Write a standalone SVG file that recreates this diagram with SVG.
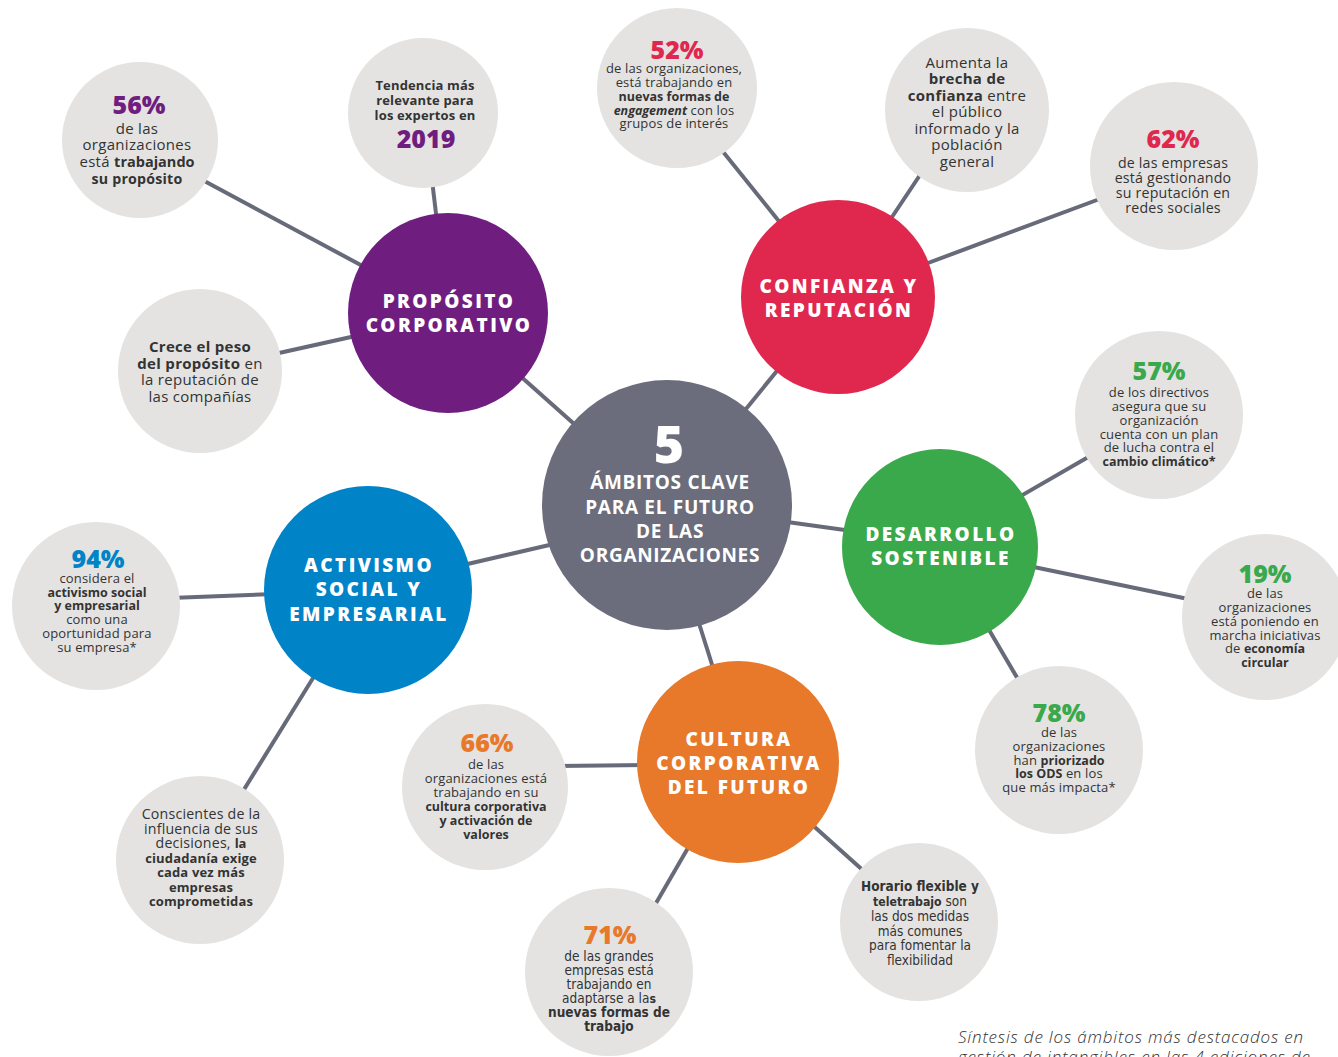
<svg xmlns="http://www.w3.org/2000/svg" width="1338" height="1057" viewBox="0 0 1338 1057">
  <style>
    .sat { fill: #e4e3e2; }
    .line { stroke: #676a79; stroke-width: 4; fill: none; }
    .t { font-family: "Open Sans", "Noto Sans", sans-serif; font-size: 13px; letter-spacing: 0.15px; fill: #333333; text-anchor: middle; }
    .big { font-size: 15px; letter-spacing: 0.3px; }
    .mid { font-size: 14.2px; letter-spacing: 0.2px; }
    .n { font-family: "Liberation Sans Narrow", "DejaVu Sans Condensed", "Roboto", sans-serif; font-size: 13.5px; letter-spacing: 0; }
    .bd { font-weight: 700; }
    .bs { font-weight: 700; font-size: 12.5px; letter-spacing: 0; }
    .pct { font-family: "Open Sans", "Noto Sans", sans-serif; font-weight: 800; font-size: 25px; text-anchor: middle; }
    .cat { font-family: "Open Sans", "Noto Sans", sans-serif; font-weight: 800; font-size: 19px; fill: #ffffff; letter-spacing: 2.4px; text-anchor: middle; }
    .purple { fill: #6f1e80; }
    .red { fill: #e0284f; }
    .green { fill: #39a94b; }
    .blue { fill: #0083c7; }
    .orange { fill: #e8792b; }
  </style>

  <rect width="1338" height="1057" fill="#ffffff"/>

  <!-- connectors, drawn first so the circles sit over their ends -->
  <g id="connectors">
    <line class="line" x1="195" y1="176" x2="370" y2="270"/>
    <line class="line" x1="432" y1="180" x2="437" y2="222"/>
    <line class="line" x1="270" y1="355" x2="360" y2="335"/>
    <line class="line" x1="518" y1="374" x2="582" y2="431"/>
    <line class="line" x1="720" y1="148" x2="786" y2="230"/>
    <line class="line" x1="926" y1="166" x2="886" y2="226"/>
    <line class="line" x1="1105" y1="197" x2="920" y2="266"/>
    <line class="line" x1="785" y1="361" x2="737" y2="420"/>
    <line class="line" x1="1097" y1="452" x2="1012" y2="501"/>
    <line class="line" x1="780" y1="521" x2="852" y2="531"/>
    <line class="line" x1="1024" y1="565" x2="1193" y2="600"/>
    <line class="line" x1="985" y1="623" x2="1022" y2="686"/>
    <line class="line" x1="697" y1="617" x2="715" y2="674"/>
    <line class="line" x1="557" y1="766" x2="647" y2="765"/>
    <line class="line" x1="692" y1="841" x2="648" y2="917"/>
    <line class="line" x1="808" y1="821" x2="867" y2="874"/>
    <line class="line" x1="558" y1="543" x2="459" y2="566"/>
    <line class="line" x1="274" y1="594" x2="170" y2="598"/>
    <line class="line" x1="318" y1="670" x2="240" y2="796"/>
  </g>

  <!-- central hub -->
  <g id="hub">
    <circle cx="667" cy="505" r="125" fill="#6b6d7c"/>
    <text x="669" y="463" font-family="Open Sans, Noto Sans, sans-serif" font-weight="800" font-size="52" fill="#ffffff" text-anchor="middle">5</text>
    <g font-family="Open Sans, Noto Sans, sans-serif" font-weight="700" font-size="19" fill="#ffffff" text-anchor="middle" letter-spacing="0.7">
      <text x="670" y="489">ÁMBITOS CLAVE</text>
      <text x="670" y="514">PARA EL FUTURO</text>
      <text x="670" y="538">DE LAS</text>
      <text x="670" y="562">ORGANIZACIONES</text>
    </g>
  </g>

  <!-- main areas -->
  <g id="proposito">
    <circle cx="448" cy="313" r="100" fill="#6f1e80"/>
    <text class="cat" x="449" y="308">PROPÓSITO</text>
    <text class="cat" x="449" y="332">CORPORATIVO</text>
  </g>
  <g id="confianza">
    <circle cx="838" cy="297" r="97" fill="#e0284f"/>
    <text class="cat" x="839" y="293">CONFIANZA Y</text>
    <text class="cat" x="839" y="317">REPUTACIÓN</text>
  </g>
  <g id="desarrollo">
    <circle cx="940" cy="547" r="98" fill="#39a94b"/>
    <text class="cat" x="941" y="541">DESARROLLO</text>
    <text class="cat" x="941" y="565">SOSTENIBLE</text>
  </g>
  <g id="cultura">
    <circle cx="738" cy="762" r="101" fill="#e8792b"/>
    <text class="cat" x="739" y="746">CULTURA</text>
    <text class="cat" x="739" y="770">CORPORATIVA</text>
    <text class="cat" x="739" y="794">DEL FUTURO</text>
  </g>
  <g id="activismo">
    <circle cx="368" cy="590" r="104" fill="#0083c7"/>
    <text class="cat" x="369" y="572">ACTIVISMO</text>
    <text class="cat" x="369" y="596">SOCIAL Y</text>
    <text class="cat" x="369" y="621">EMPRESARIAL</text>
  </g>

  <!-- facts around Propósito corporativo -->
  <g id="dato-56">
    <circle class="sat" cx="140" cy="140" r="78"/>
    <text class="pct purple" x="139" y="114" font-size="26">56%</text>
    <text class="t big" x="137" y="134">de las</text>
    <text class="t big" x="137" y="150">organizaciones</text>
    <text class="t big" x="137" y="167">está <tspan class="bd" font-size="14.5" letter-spacing="0">trabajando</tspan></text>
    <text class="t bd mid" x="137" y="184" letter-spacing="0">su propósito</text>
  </g>
  <g id="dato-2019">
    <circle class="sat" cx="423" cy="113" r="75"/>
    <text class="t bd" x="425" y="90" font-size="13.8" letter-spacing="0">Tendencia más</text>
    <text class="t bd" x="425" y="105" font-size="13.8" letter-spacing="0">relevante para</text>
    <text class="t bd" x="425" y="120" font-size="13.8" letter-spacing="0">los expertos en</text>
    <text class="pct purple" x="426" y="148" font-size="27">2019</text>
  </g>
  <g id="dato-crece">
    <circle class="sat" cx="200" cy="371" r="82"/>
    <text class="t bd big" x="200" y="352">Crece el peso</text>
    <text class="t big" x="200" y="369"><tspan class="bd">del propósito</tspan> en</text>
    <text class="t big" x="200" y="385">la reputación de</text>
    <text class="t big" x="200" y="402">las compañías</text>
  </g>

  <!-- facts around Confianza y reputación -->
  <g id="dato-52">
    <circle class="sat" cx="677" cy="88" r="80"/>
    <text class="pct red" x="677" y="59">52%</text>
    <text class="t" x="674" y="73">de las organizaciones,</text>
    <text class="t" x="674" y="87">está trabajando en</text>
    <text class="t bs" x="674" y="101">nuevas formas de</text>
    <text class="t" x="674" y="115"><tspan class="bs" font-style="italic">engagement</tspan> con los</text>
    <text class="t" x="674" y="128">grupos de interés</text>
  </g>
  <g id="dato-brecha">
    <circle class="sat" cx="967" cy="110" r="82"/>
    <text class="t big" x="967" y="68">Aumenta la</text>
    <text class="t bd big" x="967" y="84">brecha de</text>
    <text class="t big" x="967" y="101"><tspan class="bd">confianza</tspan> entre</text>
    <text class="t big" x="967" y="117">el público</text>
    <text class="t big" x="967" y="134">informado y la</text>
    <text class="t big" x="967" y="150">población</text>
    <text class="t big" x="967" y="167">general</text>
  </g>
  <g id="dato-62">
    <circle class="sat" cx="1174" cy="166" r="84"/>
    <text class="pct red" x="1173" y="148">62%</text>
    <text class="t mid" x="1173" y="168">de las empresas</text>
    <text class="t mid" x="1173" y="183">está gestionando</text>
    <text class="t mid" x="1173" y="198">su reputación en</text>
    <text class="t mid" x="1173" y="213">redes sociales</text>
  </g>

  <!-- facts around Desarrollo sostenible -->
  <g id="dato-57">
    <circle class="sat" cx="1159" cy="415" r="84"/>
    <text class="pct green" x="1159" y="380">57%</text>
    <text class="t" x="1159" y="397">de los directivos</text>
    <text class="t" x="1159" y="411">asegura que su</text>
    <text class="t" x="1159" y="425">organización</text>
    <text class="t" x="1159" y="439">cuenta con un plan</text>
    <text class="t" x="1159" y="452">de lucha contra el</text>
    <text class="t bs" x="1159" y="466">cambio climático*</text>
  </g>
  <g id="dato-19">
    <circle class="sat" cx="1265" cy="617" r="83"/>
    <text class="pct green" x="1265" y="583">19%</text>
    <text class="t" x="1265" y="598">de las</text>
    <text class="t" x="1265" y="612">organizaciones</text>
    <text class="t" x="1265" y="626">está poniendo en</text>
    <text class="t" x="1265" y="640">marcha iniciativas</text>
    <text class="t" x="1265" y="653">de <tspan class="bs">economía</tspan></text>
    <text class="t bs" x="1265" y="667">circular</text>
  </g>
  <g id="dato-78">
    <circle class="sat" cx="1059" cy="750" r="84"/>
    <text class="pct green" x="1059" y="722">78%</text>
    <text class="t" x="1059" y="737">de las</text>
    <text class="t" x="1059" y="751">organizaciones</text>
    <text class="t" x="1059" y="765">han <tspan class="bs">priorizado</tspan></text>
    <text class="t" x="1059" y="778"><tspan class="bs">los ODS</tspan> en los</text>
    <text class="t" x="1059" y="792">que más impacta*</text>
  </g>

  <!-- facts around Cultura corporativa del futuro -->
  <g id="dato-66">
    <circle class="sat" cx="485" cy="787" r="83"/>
    <text class="pct orange" x="487" y="752">66%</text>
    <text class="t" x="486" y="769">de las</text>
    <text class="t" x="486" y="783">organizaciones está</text>
    <text class="t" x="486" y="797">trabajando en su</text>
    <text class="t bs" x="486" y="811">cultura corporativa</text>
    <text class="t bs" x="486" y="825">y activación de</text>
    <text class="t bs" x="486" y="839">valores</text>
  </g>
  <g id="dato-71">
    <circle class="sat" cx="609" cy="972" r="84"/>
    <text class="pct orange n" x="610" y="944" font-size="23">71%</text>
    <text class="t n" x="609" y="961">de las grandes</text>
    <text class="t n" x="609" y="975">empresas está</text>
    <text class="t n" x="609" y="989">trabajando en</text>
    <text class="t n" x="609" y="1003">adaptarse a la<tspan class="bd" font-size="12.2">s</tspan></text>
    <text class="t n bd" x="609" y="1017" font-size="12.2">nuevas formas de</text>
    <text class="t n bd" x="609" y="1031" font-size="12.2">trabajo</text>
  </g>
  <g id="dato-horario">
    <circle class="sat" cx="919" cy="922" r="79"/>
    <text class="t n bd" x="920" y="891" font-size="12.2">Horario flexible y</text>
    <text class="t n" x="920" y="906"><tspan class="bd" font-size="12.2">teletrabajo</tspan> son</text>
    <text class="t n" x="920" y="921">las dos medidas</text>
    <text class="t n" x="920" y="936">más comunes</text>
    <text class="t n" x="920" y="950">para fomentar la</text>
    <text class="t n" x="920" y="965">flexibilidad</text>
  </g>

  <!-- facts around Activismo social y empresarial -->
  <g id="dato-94">
    <circle class="sat" cx="96" cy="606" r="84"/>
    <text class="pct blue" x="98" y="568">94%</text>
    <text class="t" x="97" y="583">considera el</text>
    <text class="t bs" x="97" y="597">activismo social</text>
    <text class="t bs" x="97" y="610">y empresarial</text>
    <text class="t" x="97" y="624">como una</text>
    <text class="t" x="97" y="638">oportunidad para</text>
    <text class="t" x="97" y="652">su empresa*</text>
  </g>
  <g id="dato-ciudadania">
    <circle class="sat" cx="200" cy="860" r="84"/>
    <text class="t mid" x="201" y="819">Conscientes de la</text>
    <text class="t mid" x="201" y="834">influencia de sus</text>
    <text class="t mid" x="201" y="848">decisiones, <tspan class="bd" font-size="13" letter-spacing="0">la</tspan></text>
    <text class="t bd" x="201" y="863" font-size="13" letter-spacing="0">ciudadanía exige</text>
    <text class="t bd" x="201" y="877" font-size="13" letter-spacing="0">cada vez más</text>
    <text class="t bd" x="201" y="892" font-size="13" letter-spacing="0">empresas</text>
    <text class="t bd" x="201" y="906" font-size="13" letter-spacing="0">comprometidas</text>
  </g>

  <!-- caption -->
  <g id="caption" font-family="Open Sans, Noto Sans, sans-serif" font-style="italic" font-weight="300" font-size="17" fill="#333333">
    <text x="958" y="1043" textLength="345" lengthAdjust="spacing">Síntesis de los ámbitos más destacados en</text>
    <text x="958" y="1063" textLength="352" lengthAdjust="spacing">gestión de intangibles en las 4 ediciones de</text>
  </g>
</svg>
